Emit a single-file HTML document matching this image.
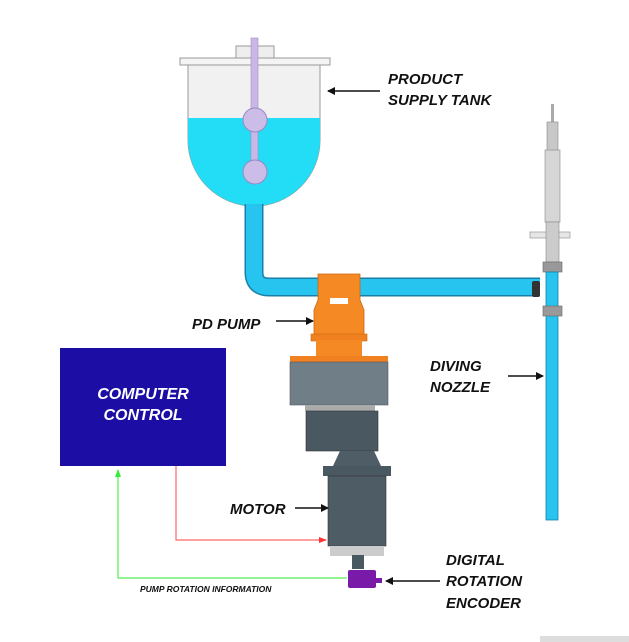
<!DOCTYPE html>
<html><head><style>
body{margin:0;background:#fff;}
svg{display:block}
.l{font-family:"Liberation Sans",sans-serif;font-style:italic;font-weight:bold;font-size:15px;fill:#111}
</style></head><body>
<svg width="629" height="642" viewBox="0 0 629 642">
<defs>
<marker id="a" markerWidth="8" markerHeight="8" refX="7" refY="4" orient="auto" markerUnits="userSpaceOnUse"><path d="M0,0 L8,4 L0,8z" fill="#111"/></marker>
<marker id="r" markerWidth="8" markerHeight="8" refX="7" refY="4" orient="auto" markerUnits="userSpaceOnUse"><path d="M0,1 L8,4 L0,7z" fill="#f33"/></marker>
<marker id="g" markerWidth="8" markerHeight="8" refX="7" refY="4" orient="auto" markerUnits="userSpaceOnUse"><path d="M0,1 L8,4 L0,7z" fill="#3e3"/></marker>
</defs>
<!-- tank -->
<path d="M188,64 V140 A66,66 0 0 0 320,140 V64z" fill="#f1f1f1" stroke="#999"/>
<path d="M188,118 H320 V140 A66,66 0 0 1 188,140z" fill="#22ddf5"/>
<rect x="180" y="58" width="150" height="7" fill="#f4f4f4" stroke="#999"/>
<rect x="236" y="46" width="38" height="12" fill="#eee" stroke="#999"/>
<rect x="251" y="38" width="7" height="128" fill="#c9b8e6" stroke="#a08cc8" stroke-width="0.6"/>
<ellipse cx="255" cy="120" rx="12" ry="12" fill="#cbbde8" stroke="#9a88c4"/>
<ellipse cx="255" cy="172" rx="12" ry="12" fill="#cbbde8" stroke="#9a88c4"/>
<!-- piping -->
<path d="M254,204 V272 Q254,287 269,287 H540" fill="none" stroke="#1a7fa8" stroke-width="19"/>
<path d="M254,204 V272 Q254,287 269,287 H540" fill="none" stroke="#26c4ee" stroke-width="16"/>
<!-- nozzle -->
<rect x="551" y="104" width="3" height="20" fill="#aaa"/>
<rect x="547" y="122" width="11" height="30" fill="#c8c8c8" stroke="#888" stroke-width="0.6"/>
<rect x="545" y="150" width="15" height="72" fill="#d6d6d6" stroke="#888" stroke-width="0.6"/>
<rect x="530" y="232" width="40" height="6" fill="#e6e6e6" stroke="#888" stroke-width="0.6"/>
<rect x="546" y="222" width="13" height="40" fill="#ccc" stroke="#888" stroke-width="0.6"/>
<rect x="543" y="262" width="19" height="10" fill="#999" stroke="#666" stroke-width="0.6"/>
<rect x="546" y="272" width="12" height="248" fill="#26c4ee" stroke="#1a7fa8" stroke-width="0.8"/>
<rect x="543" y="306" width="19" height="10" fill="#999" stroke="#666" stroke-width="0.6"/>
<rect x="532" y="281" width="8" height="16" rx="2" fill="#333"/>
<!-- pump -->
<path d="M318,274 H360 V300 L364,310 V340 H314 V310 L318,300z" fill="#f58a24" stroke="#c86a10" stroke-width="0.8"/>
<rect x="311" y="334" width="56" height="7" fill="#f08020" stroke="#c86a10" stroke-width="0.6"/>
<rect x="316" y="340" width="46" height="18" fill="#f58a24"/>
<rect x="330" y="298" width="18" height="6" fill="#fff"/>
<rect x="290" y="356" width="98" height="6" fill="#f08020"/>
<rect x="290" y="362" width="98" height="43" fill="#6f7e87" stroke="#556" stroke-width="0.6"/>
<rect x="305" y="405" width="70" height="6" fill="#aaa"/>
<rect x="306" y="411" width="72" height="40" fill="#4a5862" stroke="#333" stroke-width="0.6"/>
<path d="M340,451 H374 L382,468 H332z" fill="#4f5d67"/>
<rect x="323" y="466" width="68" height="10" fill="#4a5862"/>
<rect x="328" y="476" width="58" height="70" fill="#4e5c66" stroke="#333" stroke-width="0.6"/>
<rect x="330" y="546" width="54" height="10" fill="#ccc"/>
<rect x="352" y="555" width="12" height="14" fill="#4a5862"/>
<rect x="348" y="570" width="28" height="18" rx="2" fill="#7a1aa8"/>
<rect x="374" y="578" width="8" height="5" fill="#7a1aa8"/>
<!-- computer -->
<rect x="60" y="348" width="166" height="118" fill="#1c0ea4"/>
<text x="143" y="399" text-anchor="middle" font-family="Liberation Sans,sans-serif" font-style="italic" font-weight="bold" font-size="16" fill="#fff">COMPUTER</text>
<text x="143" y="420" text-anchor="middle" font-family="Liberation Sans,sans-serif" font-style="italic" font-weight="bold" font-size="16" fill="#fff">CONTROL</text>
<polyline points="176,466 176,540 326,540" fill="none" stroke="#f66" stroke-width="1.2" marker-end="url(#r)"/>
<polyline points="347,578 118,578 118,470" fill="none" stroke="#5e5" stroke-width="1.2" marker-end="url(#g)"/>
<text x="140" y="592" font-family="Liberation Sans,sans-serif" font-style="italic" font-weight="bold" font-size="8.5" fill="#111">PUMP ROTATION INFORMATION</text>
<!-- labels -->
<text class="l" x="388" y="84">PRODUCT</text>
<text class="l" x="388" y="105">SUPPLY TANK</text>
<line x1="380" y1="91" x2="328" y2="91" stroke="#111" stroke-width="1.5" marker-end="url(#a)"/>
<text class="l" x="192" y="329">PD PUMP</text>
<line x1="276" y1="321" x2="313" y2="321" stroke="#111" stroke-width="1.5" marker-end="url(#a)"/>
<text class="l" x="430" y="371">DIVING</text>
<text class="l" x="430" y="392">NOZZLE</text>
<line x1="508" y1="376" x2="543" y2="376" stroke="#111" stroke-width="1.5" marker-end="url(#a)"/>
<text class="l" x="230" y="514">MOTOR</text>
<line x1="295" y1="508" x2="328" y2="508" stroke="#111" stroke-width="1.5" marker-end="url(#a)"/>
<text class="l" x="446" y="565">DIGITAL</text>
<text class="l" x="446" y="586">ROTATION</text>
<text class="l" x="446" y="608">ENCODER</text>
<line x1="440" y1="581" x2="386" y2="581" stroke="#111" stroke-width="1.5" marker-end="url(#a)"/>
<rect x="540" y="636" width="89" height="6" fill="#ddd"/>
</svg>
</body></html>
